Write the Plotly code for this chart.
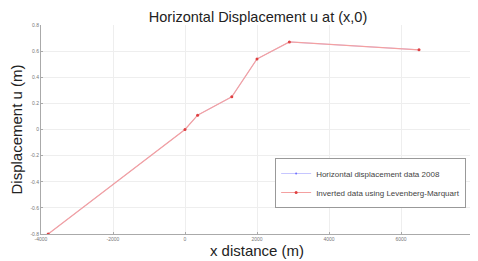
import plotly.graph_objects as go

x_vals = [-3800, 0, 350, 1300, 2000, 2900, 6500]
u_data = [-0.8, 0.0, 0.11, 0.25, 0.54, 0.67, 0.61]
u_inv = [-0.8, 0.0, 0.11, 0.25, 0.54, 0.67, 0.61]

x_ticks = [-4000, -2000, 0, 2000, 4000, 6000, 8000]
y_ticks = [-0.8, -0.6, -0.4, -0.2, 0, 0.2, 0.4, 0.6, 0.8]

fig = go.Figure()
fig.add_trace(go.Scatter(x=x_vals, y=u_data, mode="lines+markers",
                         name="Horizontal displacement data 2008",
                         line=dict(color="#7070ff", width=0.4),
                         marker=dict(size=2, color="#7070ff")))
fig.add_trace(go.Scatter(x=x_vals, y=u_inv, mode="lines+markers",
                         name="Inverted data using Levenberg-Marquart",
                         line=dict(color="#f4a0a0", width=1.2),
                         marker=dict(size=3, color="#e04040")))

fig.update_layout(
    width=470, height=253,
    margin=dict(l=33, r=5, t=17, b=27),
    paper_bgcolor="white", plot_bgcolor="white",
    font=dict(family="Liberation Sans, Arial", color="#333"),
    title=dict(text="Horizontal Displacement u at (x,0)", x=0.532, xanchor="center",
               y=0.966, yanchor="middle", font=dict(size=14.5, color="#222")),
    showlegend=True,
    legend=dict(x=0.542, y=0.244, xanchor="left", yanchor="middle",
                bgcolor="white", bordercolor="#999", borderwidth=1,
                font=dict(size=8, color="#444"), tracegroupgap=0,
                itemwidth=30),
)
fig.update_xaxes(range=[-4000, 8000], tickvals=x_ticks,
                 ticktext=[str(v) for v in x_ticks],
                 tickfont=dict(size=5, color="#777"),
                 showgrid=True, gridcolor="#eeeeee", zeroline=False,
                 showline=True, linecolor="#aaa", ticks="inside", ticklen=2, tickcolor="#aaa",
                 title=dict(text="x distance (m)", font=dict(size=15, color="#222"), standoff=2))
fig.update_yaxes(range=[-0.8, 0.8], tickvals=y_ticks,
                 ticktext=[("%g" % v) for v in y_ticks],
                 tickfont=dict(size=5, color="#777"),
                 showgrid=True, gridcolor="#eeeeee", zeroline=False,
                 showline=True, linecolor="#aaa", ticks="inside", ticklen=2, tickcolor="#aaa",
                 title=dict(text="Displacement u (m)", font=dict(size=15, color="#222"), standoff=6))

fig.write_html("out.html")
